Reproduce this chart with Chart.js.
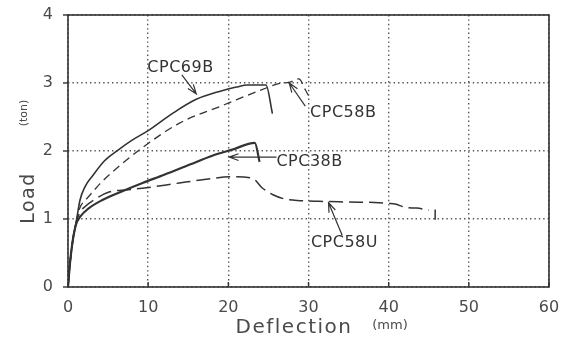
<!DOCTYPE html>
<html lang="en">
<head>
<meta charset="UTF-8" />
<title>Load - Deflection</title>
<script src="https://cdn.jsdelivr.net/npm/chart.js@4.4.0/dist/chart.umd.min.js"></script>
<style>
  html, body { margin: 0; padding: 0; background: #fff; }
  .chart-box { position: relative; width: 563px; height: 345px; }
</style>
</head>
<body>
<div class="chart-box"><canvas id="loadChart" width="563" height="345"></canvas></div>
<script>
// deflection (mm) and load (ton)
const x69B = [0, 0.25, 0.6, 1.0, 1.5, 2.1, 3.1, 4.5, 6.2, 8, 10, 13, 16, 19, 21, 22.4, 24.7, 25.5]
const y69B = [0, 0.35, 0.69, 0.94, 1.28, 1.47, 1.64, 1.85, 2.01, 2.16, 2.3, 2.55, 2.76, 2.88, 2.94, 2.97, 2.97, 2.55]

const x58B = [0, 0.25, 0.6, 1.0, 1.5, 2.2, 3.1, 4.0, 6, 9.3, 13.9, 19.5, 24.8, 26.3, 27.6, 28.8, 29.6, 30.3]
const y58B = [0, 0.35, 0.69, 0.94, 1.17, 1.28, 1.4, 1.52, 1.74, 2.05, 2.41, 2.68, 2.93, 2.99, 3.01, 3.06, 2.9, 2.75]

const x38B = [0, 0.25, 0.6, 1.0, 1.5, 2.5, 4.3, 7, 9.3, 12, 15.2, 18, 20.5, 23.3, 23.9]
const y38B = [0, 0.35, 0.69, 0.92, 1.03, 1.15, 1.28, 1.42, 1.53, 1.65, 1.8, 1.93, 2.02, 2.12, 1.84]

const x58U = [0, 0.25, 0.6, 1.0, 1.5, 2.1, 3.5, 5.2, 7.5, 9.8, 13.9, 17, 20.5, 23, 24.2, 25.5, 27.2, 29, 31.3, 35, 38.8, 40, 40.8, 42.1, 43.5, 45]
const y58U = [0, 0.35, 0.69, 0.94, 1.1, 1.18, 1.3, 1.4, 1.43, 1.46, 1.53, 1.58, 1.62, 1.6, 1.46, 1.36, 1.29, 1.27, 1.26, 1.25, 1.24, 1.23, 1.22, 1.17, 1.16, 1.13]

// small end mark after CPC58U
const xEnd58U = [45.8, 45.8]
const yEnd58U = [0.99, 1.14]

const xTicks = [0, 10, 20, 30, 40, 50, 60]
const yTicks = [0, 1, 2, 3, 4]

// labels and arrows, in data units
const labels = [
  { text: 'CPC69B', x: 9.9, y: 3.22, tail: [14.2, 3.12], head: [16.0, 2.84] },
  { text: 'CPC58B', x: 30.2, y: 2.56, tail: [29.6, 2.66], head: [27.6, 3.0] },
  { text: 'CPC38B', x: 26.0, y: 1.84, tail: [26.0, 1.91], head: [20.1, 1.91] },
  { text: 'CPC58U', x: 30.3, y: 0.65, tail: [34.2, 0.76], head: [32.5, 1.24] }
]

const ink = '#333'
const textInk = '#4a4a4a'
const fontFamily = '"DejaVu Sans", sans-serif'

function toPoints(xs, ys) {
  return xs.map((x, i) => ({ x: x, y: ys[i] }))
}

function series(data, width, dash) {
  return {
    data: data,
    showLine: true,
    borderColor: ink,
    borderWidth: width,
    borderDash: dash,
    pointRadius: 0,
    cubicInterpolationMode: 'monotone',
    fill: false
  }
}

const decor = {
  id: 'decor',
  afterDraw(chart) {
    const ctx = chart.ctx
    const a = chart.chartArea
    const sx = chart.scales.x
    const sy = chart.scales.y
    ctx.save()

    // frame
    ctx.strokeStyle = ink
    ctx.lineWidth = 1.6
    ctx.setLineDash([])
    ctx.strokeRect(a.left, a.top, a.right - a.left, a.bottom - a.top)

    // tick marks
    ctx.lineWidth = 1.4
    yTicks.forEach(v => {
      const py = sy.getPixelForValue(v)
      ctx.beginPath()
      ctx.moveTo(a.left - 5, py)
      ctx.lineTo(a.left, py)
      ctx.stroke()
    })
    xTicks.forEach(v => {
      const px = sx.getPixelForValue(v)
      ctx.beginPath()
      ctx.moveTo(px, a.bottom)
      ctx.lineTo(px, a.bottom - 5)
      ctx.stroke()
    })

    // axis titles
    ctx.fillStyle = textInk
    ctx.textBaseline = 'middle'
    ctx.textAlign = 'center'
    ctx.letterSpacing = '1.5px'
    ctx.font = '20px ' + fontFamily
    ctx.fillText('Deflection', 294, 328)
    ctx.letterSpacing = '0px'
    ctx.font = '13px ' + fontFamily
    ctx.fillText('(mm)', 390, 326)

    ctx.save()
    ctx.translate(29, 198)
    ctx.rotate(-Math.PI / 2)
    ctx.letterSpacing = '1.5px'
    ctx.font = '19px ' + fontFamily
    ctx.fillText('Load', 0, 0)
    ctx.restore()

    ctx.save()
    ctx.translate(24, 113)
    ctx.rotate(-Math.PI / 2)
    ctx.font = '11px ' + fontFamily
    ctx.fillText('(ton)', 0, 0)
    ctx.restore()

    // curve labels with arrows
    ctx.letterSpacing = '0.5px'
    ctx.font = '16px ' + fontFamily
    ctx.textAlign = 'left'
    ctx.fillStyle = ink
    ctx.strokeStyle = ink
    ctx.lineWidth = 1.2
    labels.forEach(l => {
      ctx.fillText(l.text, sx.getPixelForValue(l.x), sy.getPixelForValue(l.y))
      const tx = sx.getPixelForValue(l.tail[0])
      const ty = sy.getPixelForValue(l.tail[1])
      const hx = sx.getPixelForValue(l.head[0])
      const hy = sy.getPixelForValue(l.head[1])
      const ang = Math.atan2(hy - ty, hx - tx)
      ctx.beginPath()
      ctx.moveTo(tx, ty)
      ctx.lineTo(hx, hy)
      ctx.moveTo(hx - 10 * Math.cos(ang - 0.35), hy - 10 * Math.sin(ang - 0.35))
      ctx.lineTo(hx, hy)
      ctx.lineTo(hx - 10 * Math.cos(ang + 0.35), hy - 10 * Math.sin(ang + 0.35))
      ctx.stroke()
    })
    ctx.restore()
  }
}

new Chart(document.getElementById('loadChart'), {
  type: 'scatter',
  data: {
    datasets: [
      series(toPoints(x69B, y69B), 1.6, []),
      series(toPoints(x58B, y58B), 1.3, [8, 5]),
      series(toPoints(x38B, y38B), 2.2, []),
      series(toPoints(x58U, y58U), 1.5, [14, 6]),
      series(toPoints(xEnd58U, yEnd58U), 1.5, [])
    ]
  },
  options: {
    responsive: false,
    animation: false,
    layout: { padding: { top: 15, right: 14, left: 0, bottom: 0 } },
    plugins: {
      legend: { display: false },
      tooltip: { enabled: false }
    },
    scales: {
      x: {
        type: 'linear',
        min: 0,
        max: 60,
        afterFit: s => {
          s.height = 58
          s.paddingLeft = 0
          s.paddingRight = 0
        },
        afterBuildTicks: s => { s.ticks = xTicks.map(v => ({ value: v })) },
        grid: {
          color: '#555',
          lineWidth: 1.4,
          drawTicks: false
        },
        border: { display: false, dash: [1.4, 3] },
        ticks: {
          color: textInk,
          padding: 11,
          font: { family: fontFamily, size: 16 },
          maxRotation: 0
        }
      },
      y: {
        min: 0,
        max: 4,
        afterFit: s => {
          s.width = 68
          s.paddingTop = 0
          s.paddingBottom = 0
        },
        afterBuildTicks: s => { s.ticks = yTicks.map(v => ({ value: v })) },
        grid: {
          color: '#555',
          lineWidth: 1.4,
          drawTicks: false
        },
        border: { display: false, dash: [1.4, 3] },
        ticks: {
          color: textInk,
          padding: 15,
          font: { family: fontFamily, size: 16 }
        }
      }
    }
  },
  plugins: [decor]
})
</script>
</body>
</html>
